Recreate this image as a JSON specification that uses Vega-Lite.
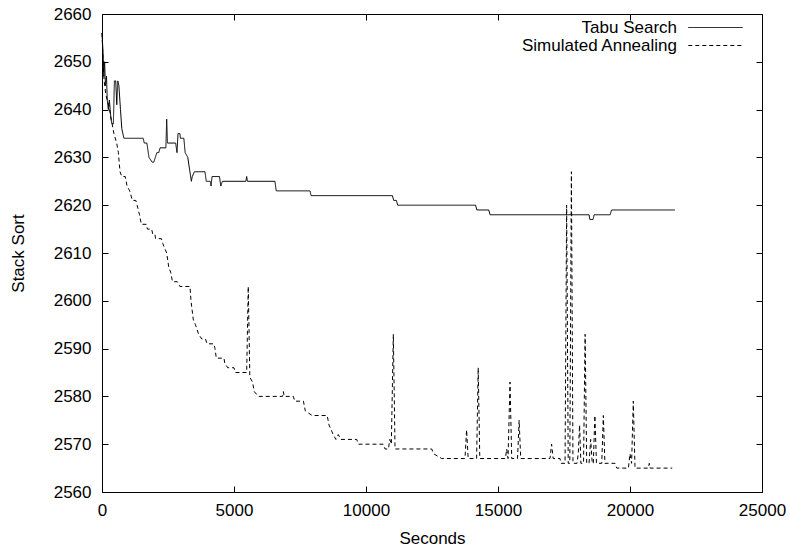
{
  "$schema": "https://vega.github.io/schema/vega-lite/v6.json",
  "width": 660,
  "height": 478,
  "autosize": {"type": "none"},
  "padding": {"left": 102, "top": 14, "right": 28, "bottom": 56},
  "background": "white",
  "config": {
    "view": {"stroke": "black", "strokeWidth": 1},
    "font": "Liberation Sans",
    "axis": {"grid": false, "domain": false, "tickColor": "black", "tickWidth": 1, "labelColor": "black", "titleColor": "black", "labelFontSize": 17, "titleFontSize": 17, "titleFontWeight": "normal", "labelFont": "Liberation Sans", "titleFont": "Liberation Sans"}
  },
  "datasets": {
    "runs": [
      {"series": "Tabu Search", "t": 0, "v": 2656},
      {"series": "Tabu Search", "t": 40, "v": 2652},
      {"series": "Tabu Search", "t": 70, "v": 2647},
      {"series": "Tabu Search", "t": 100, "v": 2650},
      {"series": "Tabu Search", "t": 130, "v": 2645},
      {"series": "Tabu Search", "t": 170, "v": 2647},
      {"series": "Tabu Search", "t": 200, "v": 2642},
      {"series": "Tabu Search", "t": 240, "v": 2640},
      {"series": "Tabu Search", "t": 280, "v": 2642},
      {"series": "Tabu Search", "t": 310, "v": 2640},
      {"series": "Tabu Search", "t": 340, "v": 2638},
      {"series": "Tabu Search", "t": 380, "v": 2637},
      {"series": "Tabu Search", "t": 430, "v": 2637},
      {"series": "Tabu Search", "t": 470, "v": 2646},
      {"series": "Tabu Search", "t": 520, "v": 2646},
      {"series": "Tabu Search", "t": 560, "v": 2641},
      {"series": "Tabu Search", "t": 600, "v": 2646},
      {"series": "Tabu Search", "t": 640, "v": 2645},
      {"series": "Tabu Search", "t": 700, "v": 2640},
      {"series": "Tabu Search", "t": 750, "v": 2636},
      {"series": "Tabu Search", "t": 830, "v": 2634},
      {"series": "Tabu Search", "t": 1560, "v": 2634},
      {"series": "Tabu Search", "t": 1600, "v": 2633},
      {"series": "Tabu Search", "t": 1700, "v": 2633},
      {"series": "Tabu Search", "t": 1780, "v": 2630},
      {"series": "Tabu Search", "t": 1900, "v": 2629},
      {"series": "Tabu Search", "t": 1960, "v": 2629},
      {"series": "Tabu Search", "t": 2020, "v": 2630},
      {"series": "Tabu Search", "t": 2080, "v": 2631},
      {"series": "Tabu Search", "t": 2150, "v": 2631},
      {"series": "Tabu Search", "t": 2200, "v": 2632},
      {"series": "Tabu Search", "t": 2420, "v": 2632},
      {"series": "Tabu Search", "t": 2450, "v": 2638},
      {"series": "Tabu Search", "t": 2480, "v": 2633},
      {"series": "Tabu Search", "t": 2790, "v": 2633},
      {"series": "Tabu Search", "t": 2840, "v": 2631},
      {"series": "Tabu Search", "t": 2880, "v": 2635},
      {"series": "Tabu Search", "t": 2950, "v": 2635},
      {"series": "Tabu Search", "t": 2970, "v": 2634},
      {"series": "Tabu Search", "t": 3100, "v": 2634},
      {"series": "Tabu Search", "t": 3150, "v": 2631},
      {"series": "Tabu Search", "t": 3250, "v": 2630},
      {"series": "Tabu Search", "t": 3330, "v": 2627},
      {"series": "Tabu Search", "t": 3384, "v": 2625},
      {"series": "Tabu Search", "t": 3420, "v": 2626},
      {"series": "Tabu Search", "t": 3500, "v": 2627},
      {"series": "Tabu Search", "t": 3900, "v": 2627},
      {"series": "Tabu Search", "t": 3950, "v": 2625},
      {"series": "Tabu Search", "t": 4100, "v": 2625},
      {"series": "Tabu Search", "t": 4130, "v": 2624},
      {"series": "Tabu Search", "t": 4170, "v": 2626},
      {"series": "Tabu Search", "t": 4450, "v": 2626},
      {"series": "Tabu Search", "t": 4500, "v": 2624},
      {"series": "Tabu Search", "t": 4560, "v": 2625},
      {"series": "Tabu Search", "t": 5450, "v": 2625},
      {"series": "Tabu Search", "t": 5480, "v": 2626},
      {"series": "Tabu Search", "t": 5510, "v": 2625},
      {"series": "Tabu Search", "t": 6550, "v": 2625},
      {"series": "Tabu Search", "t": 6600, "v": 2623},
      {"series": "Tabu Search", "t": 7880, "v": 2623},
      {"series": "Tabu Search", "t": 7920, "v": 2622},
      {"series": "Tabu Search", "t": 11000, "v": 2622},
      {"series": "Tabu Search", "t": 11050, "v": 2621},
      {"series": "Tabu Search", "t": 11150, "v": 2621},
      {"series": "Tabu Search", "t": 11200, "v": 2620},
      {"series": "Tabu Search", "t": 14150, "v": 2620},
      {"series": "Tabu Search", "t": 14200, "v": 2619},
      {"series": "Tabu Search", "t": 14650, "v": 2619},
      {"series": "Tabu Search", "t": 14700, "v": 2618},
      {"series": "Tabu Search", "t": 18450, "v": 2618},
      {"series": "Tabu Search", "t": 18480, "v": 2617},
      {"series": "Tabu Search", "t": 18600, "v": 2617},
      {"series": "Tabu Search", "t": 18640, "v": 2618},
      {"series": "Tabu Search", "t": 19250, "v": 2618},
      {"series": "Tabu Search", "t": 19300, "v": 2619},
      {"series": "Tabu Search", "t": 21700, "v": 2619},
      {"series": "Simulated Annealing", "t": 0, "v": 2656},
      {"series": "Simulated Annealing", "t": 40, "v": 2650},
      {"series": "Simulated Annealing", "t": 80, "v": 2646},
      {"series": "Simulated Annealing", "t": 150, "v": 2643},
      {"series": "Simulated Annealing", "t": 250, "v": 2641},
      {"series": "Simulated Annealing", "t": 350, "v": 2638},
      {"series": "Simulated Annealing", "t": 450, "v": 2635},
      {"series": "Simulated Annealing", "t": 556, "v": 2633},
      {"series": "Simulated Annealing", "t": 620, "v": 2631},
      {"series": "Simulated Annealing", "t": 682, "v": 2627},
      {"series": "Simulated Annealing", "t": 750, "v": 2626},
      {"series": "Simulated Annealing", "t": 880, "v": 2626},
      {"series": "Simulated Annealing", "t": 950, "v": 2624},
      {"series": "Simulated Annealing", "t": 1050, "v": 2623},
      {"series": "Simulated Annealing", "t": 1150, "v": 2621},
      {"series": "Simulated Annealing", "t": 1280, "v": 2621},
      {"series": "Simulated Annealing", "t": 1330, "v": 2620},
      {"series": "Simulated Annealing", "t": 1420, "v": 2618},
      {"series": "Simulated Annealing", "t": 1490, "v": 2616},
      {"series": "Simulated Annealing", "t": 1680, "v": 2616},
      {"series": "Simulated Annealing", "t": 1720, "v": 2615},
      {"series": "Simulated Annealing", "t": 1880, "v": 2615},
      {"series": "Simulated Annealing", "t": 1920, "v": 2614},
      {"series": "Simulated Annealing", "t": 2000, "v": 2614},
      {"series": "Simulated Annealing", "t": 2030, "v": 2613},
      {"series": "Simulated Annealing", "t": 2250, "v": 2613},
      {"series": "Simulated Annealing", "t": 2300, "v": 2612},
      {"series": "Simulated Annealing", "t": 2450, "v": 2610},
      {"series": "Simulated Annealing", "t": 2530, "v": 2607},
      {"series": "Simulated Annealing", "t": 2600, "v": 2606},
      {"series": "Simulated Annealing", "t": 2670, "v": 2604},
      {"series": "Simulated Annealing", "t": 2850, "v": 2604},
      {"series": "Simulated Annealing", "t": 2950, "v": 2603},
      {"series": "Simulated Annealing", "t": 3333, "v": 2603},
      {"series": "Simulated Annealing", "t": 3370, "v": 2600},
      {"series": "Simulated Annealing", "t": 3460, "v": 2596},
      {"series": "Simulated Annealing", "t": 3540, "v": 2595},
      {"series": "Simulated Annealing", "t": 3660, "v": 2593},
      {"series": "Simulated Annealing", "t": 3780, "v": 2592},
      {"series": "Simulated Annealing", "t": 3920, "v": 2592},
      {"series": "Simulated Annealing", "t": 3980, "v": 2591},
      {"series": "Simulated Annealing", "t": 4240, "v": 2591},
      {"series": "Simulated Annealing", "t": 4280, "v": 2590},
      {"series": "Simulated Annealing", "t": 4330, "v": 2588},
      {"series": "Simulated Annealing", "t": 4620, "v": 2588},
      {"series": "Simulated Annealing", "t": 4650, "v": 2587},
      {"series": "Simulated Annealing", "t": 4760, "v": 2586},
      {"series": "Simulated Annealing", "t": 5000, "v": 2586},
      {"series": "Simulated Annealing", "t": 5050, "v": 2585},
      {"series": "Simulated Annealing", "t": 5480, "v": 2585},
      {"series": "Simulated Annealing", "t": 5540, "v": 2603},
      {"series": "Simulated Annealing", "t": 5600, "v": 2584},
      {"series": "Simulated Annealing", "t": 5700, "v": 2583},
      {"series": "Simulated Annealing", "t": 5770, "v": 2581},
      {"series": "Simulated Annealing", "t": 5920, "v": 2580},
      {"series": "Simulated Annealing", "t": 6840, "v": 2580},
      {"series": "Simulated Annealing", "t": 6870, "v": 2581},
      {"series": "Simulated Annealing", "t": 6900, "v": 2580},
      {"series": "Simulated Annealing", "t": 7250, "v": 2580},
      {"series": "Simulated Annealing", "t": 7300, "v": 2579},
      {"series": "Simulated Annealing", "t": 7630, "v": 2579},
      {"series": "Simulated Annealing", "t": 7700, "v": 2577},
      {"series": "Simulated Annealing", "t": 7960, "v": 2576},
      {"series": "Simulated Annealing", "t": 8530, "v": 2576},
      {"series": "Simulated Annealing", "t": 8600, "v": 2574},
      {"series": "Simulated Annealing", "t": 8760, "v": 2572},
      {"series": "Simulated Annealing", "t": 8860, "v": 2571},
      {"series": "Simulated Annealing", "t": 8950, "v": 2572},
      {"series": "Simulated Annealing", "t": 9050, "v": 2571},
      {"series": "Simulated Annealing", "t": 9650, "v": 2571},
      {"series": "Simulated Annealing", "t": 9710, "v": 2570},
      {"series": "Simulated Annealing", "t": 10650, "v": 2570},
      {"series": "Simulated Annealing", "t": 10720, "v": 2569},
      {"series": "Simulated Annealing", "t": 10850, "v": 2569},
      {"series": "Simulated Annealing", "t": 10900, "v": 2571},
      {"series": "Simulated Annealing", "t": 10960, "v": 2570},
      {"series": "Simulated Annealing", "t": 11035, "v": 2593},
      {"series": "Simulated Annealing", "t": 11100, "v": 2569},
      {"series": "Simulated Annealing", "t": 12490, "v": 2569},
      {"series": "Simulated Annealing", "t": 12560, "v": 2568},
      {"series": "Simulated Annealing", "t": 12870, "v": 2567},
      {"series": "Simulated Annealing", "t": 13750, "v": 2567},
      {"series": "Simulated Annealing", "t": 13810, "v": 2573},
      {"series": "Simulated Annealing", "t": 13870, "v": 2567},
      {"series": "Simulated Annealing", "t": 14190, "v": 2567},
      {"series": "Simulated Annealing", "t": 14250, "v": 2586},
      {"series": "Simulated Annealing", "t": 14310, "v": 2567},
      {"series": "Simulated Annealing", "t": 15280, "v": 2567},
      {"series": "Simulated Annealing", "t": 15330, "v": 2569},
      {"series": "Simulated Annealing", "t": 15380, "v": 2567},
      {"series": "Simulated Annealing", "t": 15455, "v": 2583},
      {"series": "Simulated Annealing", "t": 15520, "v": 2567},
      {"series": "Simulated Annealing", "t": 15740, "v": 2567},
      {"series": "Simulated Annealing", "t": 15800, "v": 2575},
      {"series": "Simulated Annealing", "t": 15860, "v": 2567},
      {"series": "Simulated Annealing", "t": 16970, "v": 2567},
      {"series": "Simulated Annealing", "t": 17030, "v": 2570},
      {"series": "Simulated Annealing", "t": 17090, "v": 2567},
      {"series": "Simulated Annealing", "t": 17350, "v": 2567},
      {"series": "Simulated Annealing", "t": 17380, "v": 2566},
      {"series": "Simulated Annealing", "t": 17540, "v": 2566},
      {"series": "Simulated Annealing", "t": 17600, "v": 2620},
      {"series": "Simulated Annealing", "t": 17660, "v": 2566},
      {"series": "Simulated Annealing", "t": 17720, "v": 2566},
      {"series": "Simulated Annealing", "t": 17780, "v": 2627},
      {"series": "Simulated Annealing", "t": 17840, "v": 2566},
      {"series": "Simulated Annealing", "t": 17990, "v": 2566},
      {"series": "Simulated Annealing", "t": 18040, "v": 2568},
      {"series": "Simulated Annealing", "t": 18090, "v": 2574},
      {"series": "Simulated Annealing", "t": 18140, "v": 2566},
      {"series": "Simulated Annealing", "t": 18240, "v": 2566},
      {"series": "Simulated Annealing", "t": 18300, "v": 2593},
      {"series": "Simulated Annealing", "t": 18360, "v": 2566},
      {"series": "Simulated Annealing", "t": 18450, "v": 2566},
      {"series": "Simulated Annealing", "t": 18510, "v": 2571},
      {"series": "Simulated Annealing", "t": 18570, "v": 2566},
      {"series": "Simulated Annealing", "t": 18610, "v": 2566},
      {"series": "Simulated Annealing", "t": 18670, "v": 2576},
      {"series": "Simulated Annealing", "t": 18730, "v": 2566},
      {"series": "Simulated Annealing", "t": 18930, "v": 2566},
      {"series": "Simulated Annealing", "t": 18990, "v": 2576},
      {"series": "Simulated Annealing", "t": 19050, "v": 2566},
      {"series": "Simulated Annealing", "t": 19430, "v": 2566},
      {"series": "Simulated Annealing", "t": 19500, "v": 2565},
      {"series": "Simulated Annealing", "t": 19940, "v": 2565},
      {"series": "Simulated Annealing", "t": 20000, "v": 2568},
      {"series": "Simulated Annealing", "t": 20060, "v": 2566},
      {"series": "Simulated Annealing", "t": 20125, "v": 2579},
      {"series": "Simulated Annealing", "t": 20190, "v": 2565},
      {"series": "Simulated Annealing", "t": 20700, "v": 2565},
      {"series": "Simulated Annealing", "t": 20730, "v": 2566},
      {"series": "Simulated Annealing", "t": 20760, "v": 2565},
      {"series": "Simulated Annealing", "t": 21600, "v": 2565}
    ]
  },
  "data": {"name": "runs"},
  "layer": [
    {
      "mark": {"type": "line", "color": "black", "strokeWidth": 1},
      "encoding": {
        "x": {"field": "t", "type": "quantitative", "scale": {"domain": [0, 25000], "nice": false},
          "axis": {"orient": "bottom", "title": "Seconds", "values": [0, 5000, 10000, 15000, 20000, 25000], "tickSize": -6, "labelPadding": 16, "labelFlush": false, "titlePadding": 12, "format": "d"}},
        "y": {"field": "v", "type": "quantitative", "scale": {"domain": [2560, 2660], "nice": false, "zero": false},
          "axis": {"orient": "left", "title": "Stack Sort", "values": [2560, 2570, 2580, 2590, 2600, 2610, 2620, 2630, 2640, 2650, 2660], "tickSize": -6, "labelPadding": 17, "titlePadding": 26, "format": "d"}},
        "strokeDash": {"field": "series", "type": "nominal",
          "scale": {"domain": ["Tabu Search", "Simulated Annealing"], "range": [[1, 0], [4, 3]]},
          "legend": {"title": null, "orient": "none", "legendX": 605, "legendY": 5, "symbolType": "M-3.4,0L3.4,0", "symbolSize": 256, "symbolStrokeWidth": 1, "symbolStrokeColor": "black", "symbolFillColor": "transparent", "labelAlign": "right", "labelOffset": -47, "labelFontSize": 17, "labelLimit": 400, "rowPadding": 0, "labelColor": "black", "labelFont": "Liberation Sans"}}
      }
    },
    {
      "mark": {"type": "line", "opacity": 0},
      "encoding": {
        "x": {"field": "t", "type": "quantitative", "axis": {"orient": "top", "title": null, "labels": false, "values": [0, 5000, 10000, 15000, 20000, 25000], "tickSize": -6}},
        "y": {"field": "v", "type": "quantitative", "axis": {"orient": "right", "title": null, "labels": false, "values": [2560, 2570, 2580, 2590, 2600, 2610, 2620, 2630, 2640, 2650, 2660], "tickSize": -6}},
        "detail": {"field": "series", "type": "nominal"}
      }
    }
  ],
  "resolve": {"axis": {"x": "independent", "y": "independent"}}
}
